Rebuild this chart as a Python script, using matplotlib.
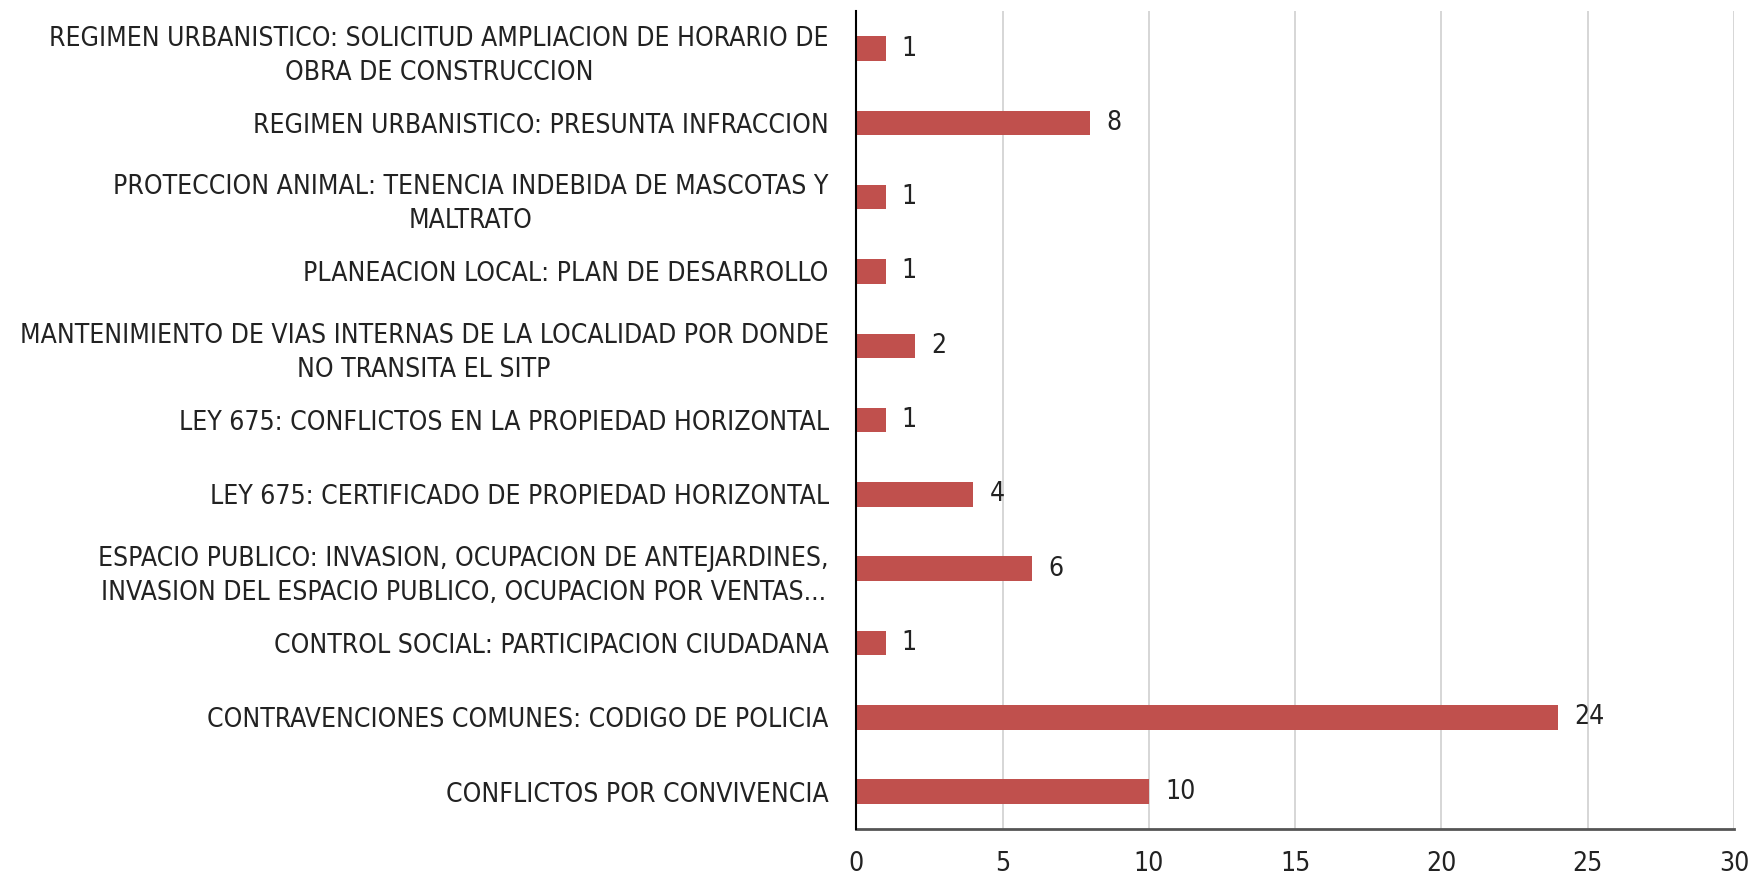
import matplotlib
matplotlib.use("Agg")
import matplotlib.pyplot as plt
from matplotlib import font_manager

categories = [
    "REGIMEN URBANISTICO: SOLICITUD AMPLIACION DE HORARIO DE\nOBRA DE CONSTRUCCION",
    "REGIMEN URBANISTICO: PRESUNTA INFRACCION",
    "PROTECCION ANIMAL: TENENCIA INDEBIDA DE MASCOTAS Y\nMALTRATO",
    "PLANEACION LOCAL: PLAN DE DESARROLLO",
    "MANTENIMIENTO DE VIAS INTERNAS DE LA LOCALIDAD POR DONDE\nNO TRANSITA EL SITP",
    "LEY 675: CONFLICTOS EN LA PROPIEDAD HORIZONTAL",
    "LEY 675: CERTIFICADO DE PROPIEDAD HORIZONTAL",
    "ESPACIO PUBLICO: INVASION, OCUPACION DE ANTEJARDINES,\nINVASION DEL ESPACIO PUBLICO, OCUPACION POR VENTAS...",
    "CONTROL SOCIAL: PARTICIPACION CIUDADANA",
    "CONTRAVENCIONES COMUNES: CODIGO DE POLICIA",
    "CONFLICTOS POR CONVIVENCIA",
]
values = [1, 8, 1, 1, 2, 1, 4, 6, 1, 24, 10]
xticks = [0, 5, 10, 15, 20, 25, 30]

condensed = any('Condensed' in f.fname and 'DejaVuSans' in f.fname for f in font_manager.fontManager.ttflist)
plt.rcParams['font.family'] = ['DejaVu Sans']
if condensed:
    plt.rcParams['font.stretch'] = 'condensed'
    fs = 19.0
else:
    fs = 17.4

fig = plt.figure(figsize=(17.55, 8.77), dpi=100)
ax = fig.add_axes([0.488, 0.055, 0.5, 0.932])

ypos = list(range(len(categories)))
bars = ax.barh(ypos, values, height=0.33, color="#C0504D", zorder=3)
ax.set_ylim(len(categories) - 0.5, -0.5)
ax.set_xlim(0, 30)
ax.set_xticks(xticks)
ax.set_xticklabels([str(t) for t in xticks], fontsize=fs, color="#222222")
ax.set_yticks(ypos)
ax.set_yticklabels(categories, fontsize=fs, color="#222222",
                   multialignment='center', linespacing=1.4)
ax.tick_params(axis='y', length=0, pad=20)
ax.tick_params(axis='x', length=0, pad=16)

ax.grid(axis='x', color="#D0D0D0", linewidth=1.2, zorder=0)
for s in ['top', 'right']:
    ax.spines[s].set_visible(False)
ax.spines['left'].set_color('black')
ax.spines['left'].set_linewidth(1.5)
ax.spines['left'].set_zorder(4)
ax.spines['bottom'].set_color('#555555')
ax.spines['bottom'].set_linewidth(2)

for b, v in zip(bars, values):
    ax.text(b.get_width() + 0.55, b.get_y() + b.get_height() / 2, str(v),
            va='center', ha='left', fontsize=fs, color="#222222")

fig.savefig("out.png", dpi=100)
